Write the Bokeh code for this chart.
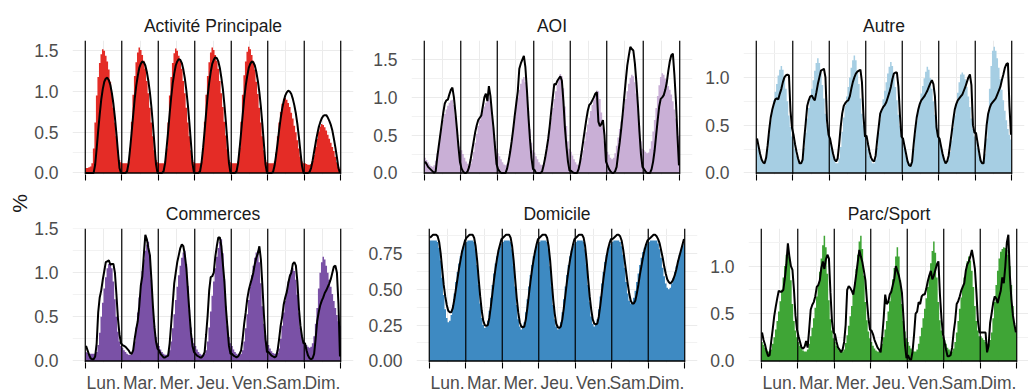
import numpy as np
from bokeh.plotting import figure
from bokeh.models import FixedTicker, Span, Label, NumeralTickFormatter
from bokeh.layouts import row, column
from bokeh.embed import file_html
from bokeh.resources import INLINE

FONT = "Liberation Sans"

days = ["Lun.", "Mar.", "Mer.", "Jeu.", "Ven.", "Sam.", "Dim."]
titles = ["Activité Principale", "AOI", "Autre", "Commerces", "Domicile", "Parc/Sport"]
colors = ["#E42C26", "#C9AFD6", "#A6CEE3", "#7A51A6", "#3E8AC2", "#3FA536"]
y_ticks_a = [0.0, 0.5, 1.0, 1.5]
y_minor_a = [0.25, 0.75, 1.25]
y_ticks_b = [0.0, 0.25, 0.5, 0.75]
y_minor_b = [0.125, 0.375, 0.625, 0.875]

# hourly values, one list of 24 per day (Lun. .. Dim.)
act_bars = [
    [.06,.06,.07,.08,.12,.30,.62,.95,1.18,1.35,1.46,1.52,1.50,1.44,1.37,1.27,1.12,.97,.80,.62,.45,.28,.16,.13],
    [.12,.12,.12,.12,.14,.31,.63,.96,1.19,1.36,1.48,1.54,1.51,1.45,1.38,1.28,1.13,.98,.80,.62,.45,.28,.16,.13],
    [.12,.12,.12,.12,.14,.30,.62,.95,1.18,1.35,1.47,1.53,1.50,1.44,1.38,1.28,1.13,.98,.80,.62,.45,.28,.16,.13],
    [.12,.12,.12,.12,.14,.31,.63,.96,1.19,1.36,1.48,1.54,1.51,1.45,1.38,1.28,1.13,.98,.81,.63,.46,.29,.16,.13],
    [.12,.12,.12,.12,.14,.31,.63,.96,1.20,1.37,1.49,1.55,1.52,1.45,1.38,1.27,1.12,.97,.80,.62,.45,.28,.16,.13],
    [.12,.12,.12,.12,.14,.25,.45,.62,.75,.85,.91,.92,.90,.86,.81,.74,.67,.58,.50,.40,.30,.20,.14,.12],
    [.12,.11,.10,.10,.11,.15,.22,.32,.42,.51,.57,.60,.59,.56,.52,.47,.42,.37,.32,.27,.20,.13,.08,.05],
]
act_line = [
    [0,0,0,0,0,0,.10,.30,.52,.72,.90,1.03,1.12,1.16,1.17,1.14,1.08,.98,.85,.68,.48,.26,.06,0],
    [0,0,0,.02,.12,.30,.50,.71,.91,1.07,1.19,1.29,1.34,1.37,1.36,1.32,1.24,1.13,.99,.81,.59,.35,.11,0],
    [0,0,0,.02,.12,.31,.51,.73,.93,1.10,1.22,1.32,1.37,1.40,1.39,1.35,1.27,1.16,1.01,.83,.61,.37,.12,0],
    [0,0,0,.02,.13,.31,.52,.74,.95,1.11,1.24,1.34,1.39,1.42,1.41,1.37,1.29,1.17,1.03,.84,.62,.37,.12,0],
    [0,0,0,.02,.12,.30,.50,.71,.91,1.07,1.19,1.29,1.34,1.37,1.36,1.32,1.24,1.13,.99,.81,.59,.35,.11,0],
    [0,0,0,.01,.09,.22,.37,.53,.67,.79,.88,.95,.99,1.01,1.00,.97,.91,.83,.73,.60,.44,.26,.09,0],
    [0,0,0,.01,.06,.15,.26,.37,.47,.56,.62,.67,.70,.71,.71,.68,.64,.59,.52,.42,.31,.19,.06,0],
]
aoi_bars = [
    [.20,.17,.14,.11,.09,.08,.10,.16,.26,.38,.50,.60,.70,.78,.84,.89,.93,.96,.97,.90,.75,.58,.42,.35],
    [.30,.25,.20,.15,.12,.10,.12,.18,.28,.40,.52,.62,.70,.77,.83,.88,.93,.97,1.00,.95,.80,.60,.42,.32],
    [.26,.22,.18,.14,.11,.10,.12,.20,.32,.46,.60,.74,.88,1.00,1.10,1.18,1.24,1.27,1.20,1.05,.82,.58,.40,.30],
    [.27,.22,.18,.14,.11,.10,.12,.20,.32,.46,.60,.73,.86,.98,1.08,1.17,1.25,1.31,1.28,1.12,.88,.62,.42,.32],
    [.28,.23,.18,.14,.11,.10,.13,.20,.30,.42,.54,.64,.73,.82,.90,.97,1.04,1.09,1.08,.98,.80,.60,.42,.32],
    [.28,.24,.20,.18,.20,.26,.36,.47,.58,.68,.78,.88,.98,1.08,1.18,1.26,1.30,1.28,1.20,1.05,.85,.62,.42,.32],
    [.30,.28,.26,.27,.32,.42,.55,.70,.86,1.02,1.16,1.27,1.32,1.30,1.25,1.20,1.15,1.10,1.04,.95,.84,.72,.60,.50],
]
aoi_line = [
    [.15,.12,.08,.06,.04,.02,0,.02,.20,.35,.50,.65,.80,.92,.96,.97,1.04,1.10,1.13,1.00,.80,.58,.34,.14],
    [.06,.02,0,0,.02,.08,.18,.30,.42,.54,.63,.70,.73,.76,.88,1.00,1.05,.95,1.15,1.02,.80,.60,.35,.12],
    [.05,.02,0,0,0,0,.06,.16,.28,.42,.58,.76,.92,1.08,1.38,1.45,1.50,1.55,1.40,1.10,.75,.45,.20,.05],
    [.04,0,0,0,0,.02,.10,.20,.32,.45,.62,.82,1.00,1.18,1.17,1.22,1.25,1.28,1.22,.95,.60,.35,.15,.03],
    [.03,.01,0,0,0,.05,.15,.28,.42,.56,.70,.82,.90,.92,.96,1.00,1.05,1.07,.68,.62,.65,.70,.50,.15],
    [.10,.05,.02,0,0,.02,.08,.25,.40,.58,.78,1.00,1.22,1.42,1.55,1.67,1.64,1.62,1.45,1.20,.90,.55,.25,.08],
    [.05,.02,0,0,0,.05,.15,.30,.50,.70,.88,.98,1.00,1.03,1.10,1.20,1.35,1.48,1.56,1.58,1.30,.95,.50,.10],
]
autre_bars = [
    [.30,.24,.18,.13,.10,.10,.14,.25,.40,.55,.66,.76,.85,.93,1.02,1.08,1.12,1.08,1.00,.88,.75,.60,.48,.38],
    [.32,.25,.18,.13,.10,.10,.14,.26,.42,.57,.68,.78,.88,.97,1.07,1.15,1.20,1.15,1.05,.92,.78,.62,.50,.40],
    [.32,.25,.18,.13,.10,.10,.15,.27,.43,.58,.70,.80,.90,1.00,1.10,1.18,1.23,1.18,1.07,.93,.78,.62,.50,.40],
    [.32,.25,.18,.13,.10,.10,.14,.26,.42,.56,.67,.77,.86,.95,1.04,1.11,1.16,1.12,1.02,.90,.76,.61,.49,.39],
    [.32,.25,.18,.13,.10,.10,.14,.25,.40,.54,.65,.74,.83,.91,.99,1.06,1.11,1.08,.99,.88,.75,.61,.50,.40],
    [.33,.27,.20,.15,.12,.11,.14,.22,.34,.47,.60,.72,.84,.95,1.03,1.05,1.03,.98,.90,.80,.69,.57,.46,.38],
    [.32,.26,.20,.15,.12,.13,.20,.36,.60,.88,1.12,1.28,1.32,1.28,1.20,1.10,.98,.87,.76,.65,.55,.46,.40,.35],
]
autre_line = [
    [.36,.28,.20,.14,.11,.10,.16,.29,.45,.58,.66,.72,.77,.78,.77,.83,.88,.95,1.00,1.02,1.03,1.02,.65,.47],
    [.40,.30,.22,.15,.10,.10,.14,.35,.52,.70,.76,.80,.81,.78,.76,.84,.93,1.00,1.07,1.08,1.09,1.00,.55,.40],
    [.36,.28,.20,.14,.12,.15,.30,.48,.62,.70,.73,.75,.76,.80,.88,.95,1.00,1.04,1.06,1.07,1.08,.95,.60,.38],
    [.39,.30,.22,.16,.13,.12,.18,.34,.48,.62,.66,.69,.71,.74,.79,.84,.90,.98,1.04,1.05,1.05,.90,.60,.38],
    [.36,.28,.20,.12,.08,.07,.12,.30,.45,.58,.66,.72,.76,.78,.80,.83,.86,.90,.94,.97,.93,.80,.48,.38],
    [.36,.28,.20,.14,.10,.12,.18,.30,.42,.55,.66,.72,.76,.78,.80,.82,.86,.90,.95,1.00,1.03,.92,.50,.42],
    [.42,.32,.22,.13,.10,.10,.30,.50,.62,.68,.72,.74,.76,.78,.82,.86,.90,.97,1.03,1.10,1.14,1.15,.70,.40],
]
com_bars = [
    [.10,.09,.08,.08,.08,.08,.08,.10,.18,.32,.50,.66,.82,.95,1.05,1.10,1.10,1.05,.90,.70,.50,.33,.22,.17],
    [.15,.12,.10,.08,.07,.07,.08,.12,.22,.38,.55,.72,.88,1.02,1.15,1.25,1.32,1.35,1.20,.92,.62,.40,.27,.20],
    [.17,.13,.10,.08,.07,.07,.08,.12,.22,.37,.53,.69,.84,.97,1.08,1.17,1.23,1.25,1.10,.85,.58,.38,.26,.20],
    [.17,.13,.10,.08,.07,.07,.08,.12,.22,.38,.56,.74,.90,1.05,1.18,1.28,1.35,1.38,1.22,.93,.62,.40,.27,.20],
    [.17,.13,.10,.08,.07,.07,.08,.12,.22,.37,.53,.69,.84,.97,1.08,1.17,1.23,1.25,1.12,.88,.62,.42,.29,.22],
    [.18,.14,.11,.09,.08,.08,.09,.14,.25,.40,.55,.68,.80,.90,.98,1.03,1.05,1.02,.92,.75,.55,.38,.28,.22],
    [.20,.18,.16,.15,.16,.20,.28,.42,.60,.82,1.00,1.12,1.18,1.15,1.08,1.00,.92,.84,.76,.68,.60,.52,.45,.40],
]
com_line = [
    [.17,.12,.07,.03,.02,.02,.05,.20,.55,.72,.80,.92,1.02,1.12,1.13,1.14,1.09,1.10,1.10,1.00,.75,.48,.30,.20],
    [.18,.17,.16,.14,.12,.09,.08,.12,.25,.36,.45,.62,.85,.96,1.20,1.43,1.38,1.28,1.20,.92,.62,.38,.22,.14],
    [.12,.08,.06,.04,.04,.05,.06,.20,.42,.65,.88,1.00,1.12,1.20,1.28,1.32,1.30,1.20,1.05,.80,.55,.32,.17,.10],
    [.08,.06,.05,.04,.04,.06,.10,.30,.52,.80,.95,.96,1.00,1.18,1.30,1.40,1.40,1.30,1.10,.90,.60,.38,.17,.08],
    [.08,.06,.05,.04,.05,.08,.12,.25,.42,.55,.70,.80,.87,.93,1.00,1.10,1.17,1.22,1.30,1.15,.85,.52,.25,.10],
    [.10,.08,.06,.05,.04,.05,.12,.25,.40,.50,.64,.72,.78,.88,.96,1.00,1.10,1.12,1.08,.90,.60,.40,.28,.20],
    [.20,.12,.06,.03,.02,.03,.08,.25,.45,.55,.63,.68,.72,.77,.80,.84,.88,.93,1.00,1.07,1.08,1.00,.65,.05],
]
dom_bars = [
    [.84,.84,.84,.84,.84,.83,.79,.70,.58,.46,.36,.30,.27,.28,.32,.39,.47,.55,.62,.68,.73,.77,.80,.82],
    [.83,.84,.84,.84,.84,.83,.78,.67,.53,.40,.30,.25,.23,.24,.28,.35,.44,.53,.61,.68,.73,.77,.80,.82],
    [.83,.84,.84,.84,.84,.83,.78,.66,.52,.39,.29,.24,.22,.23,.27,.34,.43,.52,.60,.67,.73,.77,.80,.82],
    [.83,.84,.84,.84,.84,.83,.78,.66,.52,.39,.29,.24,.22,.23,.27,.34,.43,.52,.60,.67,.73,.77,.80,.82],
    [.83,.84,.84,.84,.84,.83,.78,.67,.53,.41,.31,.26,.24,.25,.29,.36,.45,.54,.62,.69,.74,.78,.80,.82],
    [.83,.84,.84,.84,.84,.83,.80,.74,.65,.55,.47,.42,.40,.41,.44,.49,.55,.61,.67,.72,.76,.79,.81,.82],
    [.83,.84,.84,.84,.84,.84,.82,.78,.72,.65,.59,.54,.51,.50,.51,.54,.58,.62,.66,.70,.74,.77,.80,.82],
]
dom_line = [
    [.86,.87,.88,.88,.88,.87,.83,.75,.64,.53,.45,.39,.35,.34,.34,.37,.43,.50,.57,.64,.70,.76,.80,.84],
    [.86,.87,.88,.88,.88,.86,.80,.70,.57,.45,.35,.28,.25,.245,.25,.30,.38,.47,.56,.64,.71,.77,.81,.85],
    [.86,.87,.88,.88,.88,.86,.80,.70,.57,.44,.34,.27,.24,.235,.24,.29,.37,.46,.55,.63,.70,.76,.81,.85],
    [.86,.87,.88,.88,.88,.86,.80,.70,.56,.43,.33,.26,.235,.23,.24,.29,.37,.46,.55,.63,.70,.76,.81,.85],
    [.86,.87,.88,.88,.88,.86,.80,.70,.57,.45,.36,.29,.26,.255,.26,.31,.39,.48,.57,.65,.72,.78,.82,.85],
    [.85,.86,.87,.88,.88,.87,.84,.78,.70,.62,.54,.47,.42,.40,.40,.42,.47,.53,.60,.66,.72,.77,.81,.84],
    [.85,.86,.87,.88,.88,.87,.85,.82,.77,.72,.66,.61,.57,.55,.54,.55,.57,.60,.64,.69,.73,.77,.81,.85],
]
parc_bars = [
    [.20,.17,.14,.12,.10,.10,.12,.18,.25,.33,.42,.52,.63,.75,.88,1.00,1.12,1.20,1.10,.85,.60,.42,.32,.25],
    [.20,.16,.13,.11,.10,.10,.12,.18,.26,.35,.45,.56,.68,.80,.94,1.08,1.22,1.32,1.20,.92,.64,.44,.32,.24],
    [.20,.16,.13,.11,.10,.10,.12,.19,.27,.37,.47,.58,.70,.83,.97,1.12,1.26,1.32,1.18,.90,.62,.43,.31,.24],
    [.20,.16,.13,.11,.10,.10,.12,.18,.25,.33,.42,.52,.63,.74,.86,.98,1.10,1.20,1.10,.85,.60,.42,.31,.24],
    [.20,.16,.13,.11,.10,.10,.12,.18,.26,.35,.45,.55,.66,.78,.90,1.03,1.16,1.26,1.14,.88,.62,.43,.32,.25],
    [.22,.18,.14,.12,.10,.10,.13,.20,.30,.42,.55,.67,.78,.88,.97,1.05,1.10,1.06,.95,.78,.58,.42,.32,.26],
    [.26,.24,.22,.20,.18,.18,.22,.30,.45,.62,.80,.95,1.08,1.15,1.18,1.20,1.19,1.17,1.12,1.00,.80,.58,.40,.30],
]
parc_line = [
    [.30,.22,.17,.10,.05,.06,.20,.33,.47,.57,.66,.74,.73,.73,.75,.87,1.02,1.24,1.10,1.00,.96,.75,.48,.33],
    [.26,.20,.14,.13,.15,.21,.14,.33,.54,.59,.62,.68,.78,.80,.85,.98,1.05,.97,1.07,1.12,1.08,.72,.42,.30],
    [.28,.20,.14,.12,.09,.12,.20,.38,.75,.79,.77,.74,.70,.80,.92,1.05,1.17,1.10,1.04,.95,.85,.63,.45,.33],
    [.32,.28,.22,.18,.14,.12,.09,.25,.45,.70,.60,.62,.70,.73,.80,.87,1.00,.95,.90,.82,.72,.46,.17,.03],
    [.06,.02,.01,.10,.28,.50,.52,.62,.60,.68,.70,.70,.76,.84,.90,.95,.86,.90,.96,1.02,1.05,.70,.45,.28],
    [.20,.12,.05,.05,.06,.14,.30,.42,.60,.63,.68,.74,.78,.82,.95,1.02,1.05,1.10,1.17,1.08,.97,.72,.42,.30],
    [.30,.30,.30,.30,.09,.16,.40,.50,.61,.68,.66,.61,.68,.74,.88,.82,1.00,1.25,1.33,.90,.65,.48,.38,.30],
]


def flat(rows):
    return [v for r in rows for v in r]


specs = [
    (act_bars, act_line, y_ticks_a, y_minor_a, "0.0"),
    (aoi_bars, aoi_line, y_ticks_a, y_minor_a, "0.0"),
    (autre_bars, autre_line, y_ticks_a, y_minor_a, "0.0"),
    (com_bars, com_line, y_ticks_a, y_minor_a, "0.0"),
    (dom_bars, dom_line, y_ticks_b, y_minor_b, "0.00"),
    (parc_bars, parc_line, y_ticks_a, y_minor_a, "0.0"),
]

FW, FH = 281, 134
BL = [42, 46, 37]
BR = [12, 10, 6]
TOP = [40, 28]
BOT = [23, 0]
TICK_FS = "17.5px"
GREY_TXT = "#4D4D4D"


def make_panel(i):
    bars_d, line_d, yt, ym, fmt = specs[i]
    bars, line = flat(bars_d), flat(line_d)
    col, r = i % 3, i // 3
    n = len(bars)
    per_day = n // len(days)
    ytop = max(max(bars), max(line)) * 1.05
    pad = 0.05 * n
    p = figure(frame_width=FW, frame_height=FH, x_range=(-pad, n + pad),
               y_range=(-0.012 * ytop, ytop), output_backend="svg",
               toolbar_location=None, min_border_left=BL[col],
               min_border_right=BR[col], min_border_top=TOP[r],
               min_border_bottom=BOT[r])
    p.outline_line_color = None
    p.title.text = titles[i]
    p.title.align = "center"
    p.title.text_font = FONT
    p.title.text_font_size = "17.5px"
    p.title.text_font_style = "normal"
    p.title.text_color = "#1A1A1A"
    p.title.standoff = 9

    # hourly bars as one stepped area (avoids seams between bars)
    edges = np.arange(n + 1)
    xs = np.repeat(edges, 2)[1:-1]
    ys = np.repeat(np.asarray(bars, dtype=float), 2)
    p.varea(x=xs, y1=0, y2=ys, fill_color=colors[i])
    p.line(np.arange(n) + 0.5, line, line_color="black", line_width=2)
    p.segment(x0=[0], y0=[0], x1=[n], y1=[0], line_color="black", line_width=1.5)
    for d in range(len(days) + 1):
        p.add_layout(Span(location=d * per_day, dimension="height",
                          line_color="black", line_width=1.2))

    centers = [d * per_day + per_day // 2 for d in range(len(days))]
    bounds = [d * per_day for d in range(len(days) + 1)]
    xa = p.xaxis[0]
    xa.ticker = FixedTicker(ticks=centers, minor_ticks=bounds)
    xa.major_label_overrides = {cc: dn for cc, dn in zip(centers, days)}
    xa.axis_line_color = None
    xa.major_tick_line_color = None
    xa.major_tick_out = 6
    xa.major_tick_in = 0
    xa.minor_tick_line_color = "black"
    xa.minor_tick_line_width = 1.1
    xa.minor_tick_out = 6
    xa.minor_tick_in = 0
    if r == 1:
        xa.major_label_text_font = FONT
        xa.major_label_text_font_size = TICK_FS
        xa.major_label_text_color = GREY_TXT
        xa.major_label_standoff = 4
    else:
        xa.major_label_text_font_size = "1px"
        xa.major_label_text_color = None
        xa.major_label_standoff = 0

    ya = p.yaxis[0]
    ya.ticker = FixedTicker(ticks=yt, minor_ticks=ym)
    ya.formatter = NumeralTickFormatter(format=fmt)
    ya.axis_line_color = None
    ya.major_tick_line_color = None
    ya.minor_tick_line_color = None
    ya.major_tick_out = 0
    ya.major_tick_in = 0
    ya.major_label_text_font = FONT
    ya.major_label_text_font_size = TICK_FS
    ya.major_label_text_color = GREY_TXT
    ya.major_label_standoff = 10

    for g in (p.xgrid[0], p.ygrid[0]):
        g.grid_line_color = "#EBEBEB"
        g.grid_line_width = 1
        g.minor_grid_line_color = "#F2F2F2"
        g.minor_grid_line_width = 1
    return p


panels = [make_panel(i) for i in range(6)]
grid = column(row(*panels[:3]), row(*panels[3:]))

H = 388
pl = figure(width=30, height=H, x_range=(0, 30), y_range=(0, H),
            output_backend="svg", toolbar_location=None, min_border=0)
pl.axis.visible = False
pl.grid.visible = False
pl.outline_line_color = None
pl.add_layout(Label(x=19, y=H - 203, text="%", angle=90, angle_units="deg",
                    text_align="center", text_baseline="middle",
                    text_font=FONT, text_font_size="21px", text_color="#1A1A1A"))

layout = row(pl, grid)
open("out.html", "w").write(file_html(layout, INLINE))
